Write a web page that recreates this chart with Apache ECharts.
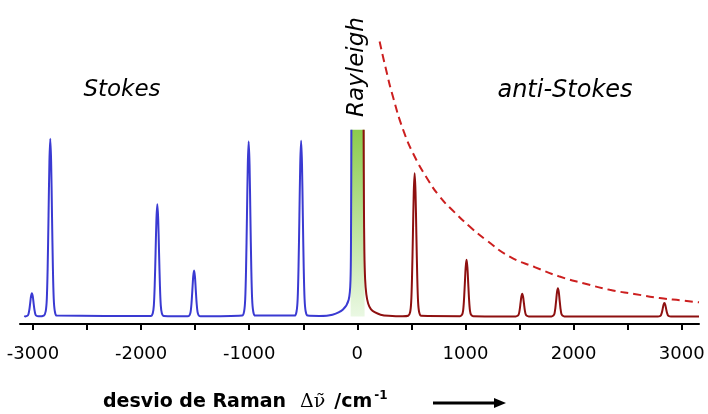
<!DOCTYPE html>
<html>
<head>
	<meta charset="UTF-8">
	<title>Raman</title>
	<style>
		html, body { margin: 0; padding: 0; background: #fff; }
	</style>
</head>
<body>
	<div id="chart-wrap" style="width: 708px; height: 414px;"></div>
</body>
<script src="https://cdn.jsdelivr.net/npm/echarts@6/dist/echarts.min.js"></script>
<script>
// 坐标轴刻度
var tickValues = [-3000, -2500, -2000, -1500, -1000, -500, 0, 500, 1000, 1500, 2000, 2500, 3000];
var tickLabels = ['-3000', '-2000', '-1000', '0', '1000', '2000', '3000'];

// Stokes 谱线 (蓝色) [位移, 强度]
var stokesLine = [
    [-3080, 0.3], [-3070, 0.06], [-3052, 0.4], [-3042, 1.25], [-3034, 3.5], [-3026, 7.1], [-3018, 10.9], [-3010, 12.5], [-3002, 10.9], [-2994, 7.1], [-2986, 3.5], [-2978, 1.25], [-2968, 0.4], [-2950, 0.1],
    [-2900, 0.5], [-2882, 2.9], [-2872, 9.5], [-2864, 26.7], [-2856, 54.3], [-2848, 82.8], [-2840, 95.2], [-2832, 82.8], [-2824, 54.3], [-2816, 26.7], [-2808, 9.5], [-2798, 2.9], [-2780, 0.5],
    [-1910, 0.3], [-1892, 1.8], [-1882, 6], [-1874, 16.9], [-1866, 34.3], [-1858, 52.4], [-1850, 60.2], [-1842, 52.4], [-1834, 34.3], [-1826, 16.9], [-1818, 6], [-1808, 1.8], [-1790, 0.3],
    [-1570, 0.1], [-1552, 0.7], [-1542, 2.5], [-1534, 6.9], [-1526, 14], [-1518, 21.4], [-1510, 24.6], [-1502, 21.4], [-1494, 14], [-1486, 6.9], [-1478, 2.5], [-1468, 0.7], [-1450, 0.1],
    [-1065, 0.5], [-1047, 2.8], [-1037, 9.4], [-1029, 26.2], [-1021, 53.4], [-1013, 81.5], [-1005, 93.7], [-997, 81.5], [-989, 53.4], [-981, 26.2], [-973, 9.4], [-963, 2.8], [-945, 0.5],
    [-580, 0.5], [-562, 2.8], [-552, 9.4], [-544, 26.3], [-536, 53.6], [-528, 81.9], [-520, 94.1], [-512, 81.9], [-504, 53.6], [-496, 26.3], [-488, 9.4], [-478, 2.8], [-460, 0.5],
    [-350, 0.3], [-230, 1], [-135, 3.6], [-80, 9], [-63, 20], [-58, 50], [-55, 100]
];

// anti-Stokes 谱线 (深红)
var antiStokesLine = [
    [58, 100], [61, 60], [65, 35], [72, 20], [83, 12], [100, 7], [125, 4], [160, 2.3], [215, 1], [290, 0.4], [420, 0.1],
    [470, 0.4], [488, 2.3], [498, 7.7], [506, 21.5], [514, 43.8], [522, 66.8], [530, 76.8], [538, 66.8], [546, 43.8], [554, 21.5], [562, 7.7], [572, 2.3], [590, 0.4],
    [950, 0.2], [968, 0.9], [978, 3], [986, 8.5], [994, 17.3], [1002, 26.4], [1010, 30.4], [1018, 26.4], [1026, 17.3], [1034, 8.5], [1042, 3], [1052, 0.9], [1070, 0.2],
    [1465, 0.06], [1483, 0.4], [1493, 1.2], [1501, 3.4], [1509, 7], [1517, 10.6], [1525, 12.2], [1533, 10.6], [1541, 7], [1549, 3.4], [1557, 1.2], [1567, 0.4], [1585, 0.06],
    [1795, 0.08], [1813, 0.5], [1823, 1.5], [1831, 4.3], [1839, 8.7], [1847, 13.2], [1855, 15.2], [1863, 13.2], [1871, 8.7], [1879, 4.3], [1887, 1.5], [1897, 0.5], [1915, 0.08],
    [2780, 0.04], [2798, 0.2], [2808, 0.7], [2816, 2], [2824, 4.1], [2832, 6.3], [2840, 7.2], [2848, 6.3], [2856, 4.1], [2864, 2], [2872, 0.7], [2882, 0.2], [2900, 0.04],
    [3160, 0]
];

// 玻尔兹曼包络 (虚线)
var envelope = [
    [206, 147.3], [260, 133.6], [329, 117.8], [430, 99], [530, 85.7], [640, 74.5], [761, 64.3], [900, 55.8],
    [1039, 48.2], [1200, 40.6], [1409, 32.1], [1640, 26.5], [1871, 21.4], [2100, 17.7], [2334, 14.3],
    [2560, 12.1], [2796, 9.9], [3000, 8.6], [3160, 7.6]
];

// 瑞利散射区域
var rayleighBand = [-62, 67];

var chart = echarts.init(document.getElementById('chart-wrap'));

var option = {
    animation: false,
    grid: { left: 20, right: 9, top: 29, bottom: 90 },
    xAxis: {
        type: 'value',
        min: -3120,
        max: 3160,
        splitLine: { show: false },
        axisLine: { onZero: false, lineStyle: { color: '#000', width: 2 } },
        axisTick: {
            customValues: tickValues,
            length: 6,
            lineStyle: { color: '#000', width: 2 }
        },
        axisLabel: {
            customValues: tickLabels.map(Number),
            formatter: function (v) { return tickLabels[tickLabels.indexOf(String(v))]; },
            margin: 21,
            color: '#000',
            fontFamily: 'DejaVu Sans',
            fontSize: 18
        }
    },
    yAxis: {
        type: 'value',
        min: -4,
        max: 154,
        show: false
    },
    series: [{
        name: 'Stokes',
        type: 'line',
        data: stokesLine,
        symbol: 'none',
        smooth: 0.3,
        lineStyle: { color: '#3a3ad2', width: 2 },
        markArea: {
            silent: true,
            itemStyle: {
                color: new echarts.graphic.LinearGradient(0, 0, 0, 1, [
                    { offset: 0, color: '#8ccb4d' },
                    { offset: 1, color: '#eaf8e3' }
                ])
            },
            data: [[{ xAxis: rayleighBand[0], yAxis: 0 }, { xAxis: rayleighBand[1], yAxis: 100 }]]
        },
        z: 3
    }, {
        name: 'anti-Stokes',
        type: 'line',
        data: antiStokesLine,
        symbol: 'none',
        smooth: 0.3,
        lineStyle: { color: '#8e1010', width: 2 },
        z: 3
    }, {
        name: 'envelope',
        type: 'line',
        data: envelope,
        symbol: 'none',
        smooth: true,
        lineStyle: { color: '#cc1f1f', width: 2, type: [8, 5] },
        z: 2
    }],
    graphic: [{
        type: 'text',
        x: 122, y: 90,
        style: {
            text: 'Stokes', fill: '#000',
            font: 'italic 23px "DejaVu Sans"',
            textAlign: 'center', textVerticalAlign: 'middle'
        }
    }, {
        type: 'text',
        x: 565, y: 91,
        style: {
            text: 'anti-Stokes', fill: '#000',
            font: 'italic 24px "DejaVu Sans"',
            textAlign: 'center', textVerticalAlign: 'middle'
        }
    }, {
        type: 'text',
        x: 357, y: 67,
        rotation: Math.PI / 2,
        style: {
            text: 'Rayleigh', fill: '#000',
            font: 'italic 23px "DejaVu Sans"',
            textAlign: 'center', textVerticalAlign: 'middle'
        }
    }, {
        type: 'text',
        x: 103, y: 402,
        style: {
            text: '{t|desvio de Raman}{d|Δν̃}{c|/cm}{s|-1}',
            textVerticalAlign: 'middle',
            rich: {
                t: { font: 'bold 19px "DejaVu Sans"', fill: '#000', lineHeight: 24 },
                d: { font: '19px "DejaVu Serif"', fill: '#000', lineHeight: 24, padding: [0, 0, 0, 14] },
                c: { font: 'bold 19px "DejaVu Sans"', fill: '#000', lineHeight: 24, padding: [0, 0, 0, 9] },
                s: { font: 'bold 12px "DejaVu Sans"', fill: '#000', lineHeight: 24, verticalAlign: 'top', padding: [0, 0, 0, 2] }
            }
        }
    }, {
        type: 'line',
        shape: { x1: 433, y1: 403, x2: 497, y2: 403 },
        style: { stroke: '#000', lineWidth: 3 }
    }, {
        type: 'polygon',
        shape: { points: [[494, 398], [506, 403], [494, 408]] },
        style: { fill: '#000' }
    }]
};

chart.setOption(option);
</script>
</html>
